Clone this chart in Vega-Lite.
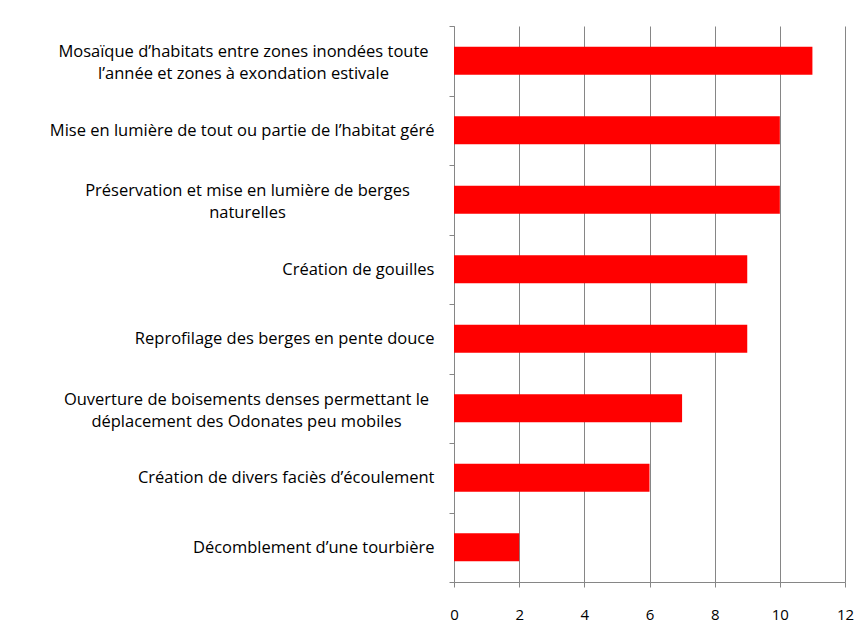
{
  "$schema": "https://vega.github.io/schema/vega-lite/v6.json",
  "width": 391,
  "height": 556,
  "autosize": "none",
  "padding": {"left": 454, "top": 26, "right": 21, "bottom": 62},
  "background": "white",
  "config": {"view": {"stroke": null}, "font": "Open Sans"},
  "data": {"values": [
    {"action": "Mosaïque d’habitats entre zones inondées toute|l’année et zones à exondation estivale", "n": 11},
    {"action": "Mise en lumière de tout ou partie de l’habitat géré ", "n": 10},
    {"action": "Préservation et mise en lumière de berges|naturelles", "n": 10},
    {"action": "Création de gouilles ", "n": 9},
    {"action": "Reprofilage des berges en pente douce", "n": 9},
    {"action": "Ouverture de boisements denses permettant le|déplacement des Odonates peu mobiles", "n": 7},
    {"action": "Création de divers faciès d’écoulement ", "n": 6},
    {"action": "Décomblement d’une tourbière", "n": 2}
  ]},
  "mark": {"type": "bar", "color": "#FF0000", "height": {"band": 0.4}},
  "encoding": {
    "y": {
      "field": "action", "type": "nominal", "sort": null, "title": null,
      "scale": {"paddingInner": 0, "paddingOuter": 0},
      "axis": {
        "labelExpr": "datum.value ? split(datum.value, '|') : ''",
        "labelLimit": 0,
        "labelFontSize": 16.5,
        "labelColor": "#000000",
        "labelLineHeight": 22,
        "labelAlign": {"condition": {"test": "isString(datum.value) && indexof(datum.value, '|') >= 0", "value": "center"}, "value": "right"},
        "labelPadding": {"condition": [
          {"test": "isString(datum.value) && indexof(datum.value, 'Mosa') == 0", "value": 206},
          {"test": "isString(datum.value) && indexof(datum.value, 'Pr') == 0", "value": 202},
          {"test": "isString(datum.value) && indexof(datum.value, 'Ouv') == 0", "value": 203}
        ], "value": 15},
        "labelOffset": {"condition": {"test": "isString(datum.value) && indexof(datum.value, '|') >= 0", "value": -9}, "value": 0},
        "tickBand": "extent",
        "tickSize": 5,
        "tickColor": "#868686",
        "domainColor": "#868686",
        "grid": false
      }
    },
    "x": {
      "field": "n", "type": "quantitative", "title": null,
      "scale": {"domain": [0, 12], "nice": false},
      "axis": {
        "values": [0, 2, 4, 6, 8, 10, 12],
        "grid": true,
        "gridColor": "#868686",
        "tickColor": "#868686",
        "domain": true,
        "domainColor": "#868686",
        "domainWidth": 1,
        "tickSize": 5,
        "labelPadding": 20,
        "labelFontSize": 15,
        "labelColor": "#000000",
        "labelFlush": false
      }
    }
  }
}
